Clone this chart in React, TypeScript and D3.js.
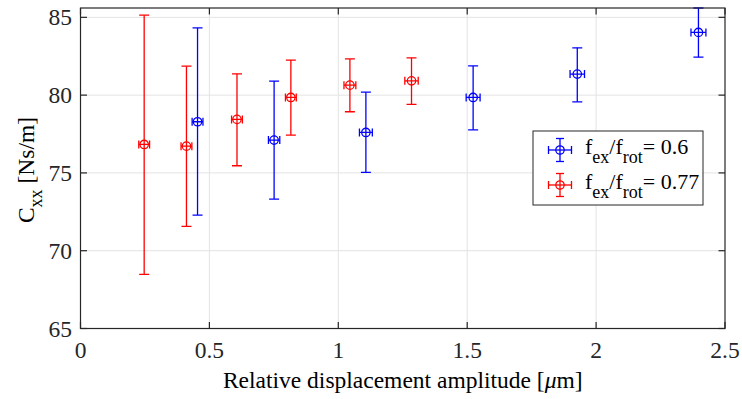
import React from "react";
import * as d3 from "d3";

const xTicks = [0, 0.5, 1, 1.5, 2, 2.5];
const yTicks = [65, 70, 75, 80, 85];

// series f_ex/f_rot = 0.6 (blue)
const blueX = [0.454, 0.751, 1.107, 1.523, 1.927, 2.397];
const blueY = [78.29, 77.11, 77.6, 79.85, 81.35, 84.03];
const blueLo = [72.29, 73.32, 75.03, 77.77, 79.57, 82.44];
const blueHi = [84.32, 80.9, 80.19, 81.88, 83.04, 85.6];
const blueXErr = [0.021, 0.022, 0.025, 0.027, 0.028, 0.029];

// series f_ex/f_rot = 0.77 (red)
const redX = [0.247, 0.411, 0.607, 0.816, 1.045, 1.284];
const redY = [76.83, 76.72, 78.44, 79.85, 80.64, 80.92];
const redLo = [68.48, 71.57, 75.46, 77.43, 78.93, 79.4];
const redHi = [85.14, 81.86, 81.37, 82.25, 82.33, 82.4];
const redXErr = [0.021, 0.021, 0.021, 0.021, 0.023, 0.026];

const legendLabels = ["0.6", "0.77"];

const W = 742;
const H = 399;
const L = 80.5, R = 725, T = 8, B = 328.5;
const FONT = "Liberation Serif";
const AX = "#262626";
const FS = 23.5;
const SUB = 18;

const x = d3.scaleLinear().domain([0, 2.5]).range([L, R]);
const y = d3.scaleLinear().domain([65, 85.6]).range([B, T]);

type S = { xs: number[]; ys: number[]; lo: number[]; hi: number[]; xe: number[]; color: string };
const series: S[] = [
  { xs: blueX, ys: blueY, lo: blueLo, hi: blueHi, xe: blueXErr, color: "#0000ff" },
  { xs: redX, ys: redY, lo: redLo, hi: redHi, xe: redXErr, color: "#ff0000" },
];

const tstyle: React.CSSProperties = { fontFamily: FONT };

function ErrPoint({ cx, cy, y0, y1, x0, x1, color }: { cx: number; cy: number; y0: number; y1: number; x0: number; x1: number; color: string }) {
  const cap = 5;
  const vcap = 4;
  return (
    <g stroke={color} strokeWidth={1.3} fill="none">
      <line x1={cx} x2={cx} y1={y0} y2={y1} />
      <line x1={cx - cap} x2={cx + cap} y1={y0} y2={y0} />
      <line x1={cx - cap} x2={cx + cap} y1={y1} y2={y1} />
      <line x1={x0} x2={x1} y1={cy} y2={cy} />
      <line x1={x0} x2={x0} y1={cy - vcap} y2={cy + vcap} />
      <line x1={x1} x2={x1} y1={cy - vcap} y2={cy + vcap} />
      <circle cx={cx} cy={cy} r={4.2} />
    </g>
  );
}

export default function App() {
  const clipId = "plotclip";
  return (
    <svg width={W} height={H} style={{ position: "absolute", left: 0, top: 0, background: "#fff" }}>
      <defs>
        <clipPath id={clipId}>
          <rect x={L - 6} y={T - 1} width={R - L + 12} height={B - T + 2} />
        </clipPath>
      </defs>
      <rect x={L} y={T} width={R - L} height={B - T} fill="#fff" />
      {/* grid */}
      <g stroke="#e3e3e3" strokeWidth={1}>
        {xTicks.slice(1, -1).map((t) => (
          <line key={"gx" + t} x1={x(t)} x2={x(t)} y1={T} y2={B} />
        ))}
        {yTicks.map((t) => (
          <line key={"gy" + t} x1={L} x2={R} y1={y(t)} y2={y(t)} />
        ))}
      </g>
      {/* data */}
      <g clipPath={`url(#${clipId})`}>
        {series.map((s, si) =>
          s.xs.map((xv, i) => (
            <ErrPoint
              key={si + "-" + i}
              cx={x(xv)}
              cy={y(s.ys[i])}
              y0={y(s.hi[i])}
              y1={y(s.lo[i])}
              x0={x(xv - s.xe[i])}
              x1={x(xv + s.xe[i])}
              color={s.color}
            />
          ))
        )}
      </g>
      {/* axes box */}
      <rect x={L} y={T} width={R - L} height={B - T} fill="none" stroke={AX} strokeWidth={1.2} />
      <g stroke={AX} strokeWidth={1.2}>
        {xTicks.map((t) => (
          <g key={"tx" + t}>
            <line x1={x(t)} x2={x(t)} y1={B} y2={B - 6.5} />
            <line x1={x(t)} x2={x(t)} y1={T} y2={T + 6.5} />
          </g>
        ))}
        {yTicks.map((t) => (
          <g key={"ty" + t}>
            <line x1={L} x2={L + 6.5} y1={y(t)} y2={y(t)} />
            <line x1={R} x2={R - 6.5} y1={y(t)} y2={y(t)} />
          </g>
        ))}
      </g>
      {/* tick labels */}
      {xTicks.map((t) => (
        <text key={"lx" + t} x={x(t)} y={358} textAnchor="middle" fontSize={FS} fill={AX} style={tstyle}>
          {String(t)}
        </text>
      ))}
      {yTicks.map((t) => (
        <text key={"ly" + t} x={72} y={y(t) + 8} textAnchor="end" fontSize={FS} fill={AX} style={tstyle}>
          {String(t)}
        </text>
      ))}
      {/* axis labels */}
      <text x={(L + R) / 2} y={388} textAnchor="middle" fontSize={FS} fill="#000" style={tstyle}>
        Relative displacement amplitude [<tspan fontStyle="italic">μ</tspan>m]
      </text>
      <text transform={`translate(34,170) rotate(-90)`} textAnchor="middle" fontSize={FS} fill="#000" style={tstyle}>
        C<tspan dy={8} fontSize={SUB}>xx</tspan>
        <tspan dy={-8}> [Ns/m]</tspan>
      </text>
      {/* legend */}
      <g>
        <rect x={533} y={131} width={170} height={74} fill="#fff" stroke={AX} strokeWidth={1} />
        {series.map((s, i) => {
          const cy = i === 0 ? 150 : 185;
          const cx = 560;
          return (
            <g key={"lg" + i}>
              <g stroke={s.color} strokeWidth={1.3} fill="none">
                <line x1={cx} x2={cx} y1={cy - 11.5} y2={cy + 11.5} />
                <line x1={cx - 4} x2={cx + 4} y1={cy - 11.5} y2={cy - 11.5} />
                <line x1={cx - 4} x2={cx + 4} y1={cy + 11.5} y2={cy + 11.5} />
                <line x1={cx - 11.5} x2={cx + 11.5} y1={cy} y2={cy} />
                <line x1={cx - 11.5} x2={cx - 11.5} y1={cy - 4} y2={cy + 4} />
                <line x1={cx + 11.5} x2={cx + 11.5} y1={cy - 4} y2={cy + 4} />
                <circle cx={cx} cy={cy} r={4.2} />
              </g>
              <text x={585} y={cy + 4} fontSize={22} fill="#000" style={tstyle}>
                f<tspan dy={9} fontSize={SUB}>ex</tspan>
                <tspan dy={-9}>/f</tspan>
                <tspan dy={9} fontSize={SUB}>rot</tspan>
                <tspan dy={-9}>= {legendLabels[i]}</tspan>
              </text>
            </g>
          );
        })}
      </g>
    </svg>
  );
}
